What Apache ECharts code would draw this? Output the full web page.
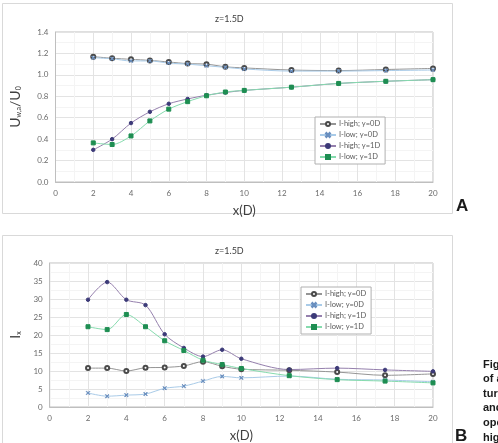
<!DOCTYPE html>
<html>
<head>
<meta charset="utf-8">
<script src="https://cdn.jsdelivr.net/npm/echarts@6/dist/echarts.min.js"></script>
<style>
  html, body { margin: 0; padding: 0; background: #fff; }
  #main { width: 498px; height: 443px; }
</style>
</head>
<body>
<div id="main"></div>
<script>
// x positions (in rotor diameters)
const xPos = [2, 3, 4, 5, 6, 7, 8, 9, 10, 12.5, 15, 17.5, 20];
const seriesNames = ["I-high; y=0D", "I-low; y=0D", "I-high; y=1D", "I-low; y=1D"];

// chart A: U_w,a / U_0
const velHigh0 = [1.17, 1.155, 1.145, 1.135, 1.12, 1.105, 1.10, 1.075, 1.065, 1.045, 1.04, 1.05, 1.06];
const velLow0  = [1.16, 1.15, 1.13, 1.13, 1.11, 1.10, 1.085, 1.07, 1.055, 1.035, 1.035, 1.04, 1.045];
const velHigh1 = [0.30, 0.40, 0.55, 0.655, 0.73, 0.775, 0.81, 0.835, 0.855, 0.885, 0.92, 0.94, 0.955];
const velLow1  = [0.365, 0.35, 0.43, 0.57, 0.68, 0.75, 0.805, 0.84, 0.855, 0.885, 0.92, 0.94, 0.955];

// chart B: I_x
const tiHigh0 = [10.8, 10.8, 10.0, 10.9, 11.0, 11.4, 12.6, 11.3, 10.5, 10.2, 9.7, 8.8, 9.2];
const tiLow0  = [3.9, 3.0, 3.3, 3.6, 5.2, 5.8, 7.2, 8.5, 8.1, 8.6, 7.7, 7.5, 7.0];
const tiHigh1 = [29.8, 34.7, 29.8, 28.3, 20.2, 16.4, 14.0, 15.9, 13.4, 10.4, 10.8, 10.3, 9.9];
const tiLow1  = [22.3, 21.5, 25.7, 22.3, 18.4, 15.7, 13.0, 11.8, 10.7, 8.7, 7.6, 7.2, 6.7];

const velTicks = [0, 1.4, 0.2];
const tiTicks = [0, 40, 5];
const xTicks = [0, 20, 2];

const chart = echarts.init(document.getElementById("main"));
const font = "Lato, 'Open Sans', sans-serif";
const crossPath = "path://M0,1L1,0L5,4L9,0L10,1L6,5L10,9L9,10L5,6L1,10L0,9L4,5Z";

const styles = [
  { line: "#959595", sym: "emptyCircle", symColor: "#4a4a4a", size: 4 },
  { line: "#a9cbe8", sym: crossPath, symColor: "#6a8fbf", size: 3.5 },
  { line: "#9580ad", sym: "circle", symColor: "#3c3a78", size: 3.5 },
  { line: "#86dbae", sym: "rect", symColor: "#1e8e52", size: 4 }
];

function pairs(vals) {
  return xPos.map((x, i) => [x, vals[i]]);
}

function makeSeries(name, vals, st, idx) {
  return {
    name: name,
    type: "line",
    xAxisIndex: idx,
    yAxisIndex: idx,
    data: pairs(vals),
    smooth: 0.3,
    symbol: st.sym,
    symbolSize: st.size,
    lineStyle: { color: st.line, width: 1 },
    itemStyle: { color: st.symColor, borderColor: st.symColor, borderWidth: 1 },
    emphasis: { disabled: true }
  };
}

function xAxis(idx, gridIdx) {
  return {
    type: "value",
    gridIndex: gridIdx,
    min: xTicks[0], max: xTicks[1], interval: xTicks[2],
    name: "x(D)",
    nameLocation: "middle",
    nameGap: 22,
    nameTextStyle: { fontFamily: font, fontSize: 13, color: "#404040" },
    axisLine: { lineStyle: { color: "#bfbfbf" } },
    axisTick: { show: false },
    axisLabel: { fontFamily: font, fontSize: 8, color: "#6b6b6b", margin: 7 },
    splitLine: { lineStyle: { color: "#e3e3e3" } },
    minorTick: { show: false, splitNumber: 2 },
    minorSplitLine: { show: true, lineStyle: { color: "#f4f4f4" } }
  };
}

function yAxis(gridIdx, ticks, name, rich, gap, fmt) {
  return {
    type: "value",
    gridIndex: gridIdx,
    min: ticks[0], max: ticks[1], interval: ticks[2],
    name: name,
    nameLocation: "middle",
    nameRotate: 90,
    nameGap: gap,
    nameTextStyle: { fontFamily: font, color: "#404040", rich: rich },
    axisLine: { show: true, lineStyle: { color: "#bfbfbf" } },
    axisTick: { show: false },
    axisLabel: { fontFamily: font, fontSize: 8, color: "#6b6b6b", margin: 7, formatter: fmt },
    splitLine: { lineStyle: { color: "#e3e3e3" } },
    minorTick: { show: false, splitNumber: 2 },
    minorSplitLine: { show: true, lineStyle: { color: "#f4f4f4" } }
  };
}

const richName = {
  a: { fontSize: 14, fontFamily: font, color: "#404040" },
  s: { fontSize: 7, fontFamily: font, color: "#404040", verticalAlign: "bottom", padding: [8, 0, 0, 0] }
};

function legend(left, top) {
  return {
    data: seriesNames,
    orient: "vertical",
    left: left,
    top: top,
    itemWidth: 16,
    itemHeight: 5,
    itemGap: 3,
    padding: [3, 5, 3, 4],
    borderColor: "#b0b0b0",
    borderWidth: 1,
    backgroundColor: "#fff",
    selectedMode: false,
    textStyle: { fontFamily: font, fontSize: 7.5, color: "#595959", padding: [0, 0, 0, -2] }
  };
}

const series = [];
[[velHigh0, velLow0, velHigh1, velLow1], [tiHigh0, tiLow0, tiHigh1, tiLow1]].forEach((set, idx) => {
  set.forEach((vals, k) => series.push(makeSeries(seriesNames[k], vals, styles[k], idx)));
});

const caption = ["Figu", "of a", "turb", "and", "ope", "high"];

const options = {
  animation: false,
  backgroundColor: "#fff",
  title: [
    { text: "z=1.5D", left: 210, top: 10, textStyle: { fontFamily: font, fontSize: 9, fontWeight: "normal", color: "#404040" } },
    { text: "z=1.5D", left: 210, top: 242, textStyle: { fontFamily: font, fontSize: 9, fontWeight: "normal", color: "#404040" } }
  ],
  grid: [
    { left: 49, top: 32, right: 65, height: 150, show: true, borderColor: "#bfbfbf", borderWidth: 1 },
    { left: 49, top: 263, right: 65, height: 150, show: true, borderColor: "#bfbfbf", borderWidth: 1 }
  ],
  xAxis: [xAxis(0, 0), xAxis(1, 1)],
  yAxis: [
    yAxis(0, velTicks, "{a|U}{s|w,a}{a|/U}{s|0}", richName, 33, v => v.toFixed(1)),
    yAxis(1, tiTicks, "{a|I}{s|x}", richName, 26, v => v)
  ],
  legend: [legend(315, 117), legend(301, 287)],
  series: series,
  graphic: [
    { type: "rect", shape: { x: 2.5, y: 3.5, width: 450, height: 210 }, style: { fill: "none", stroke: "#d9d9d9", lineWidth: 1 }, z: -1 },
    { type: "rect", shape: { x: 2.5, y: 235.5, width: 450, height: 220 }, style: { fill: "none", stroke: "#d9d9d9", lineWidth: 1 }, z: -1 },
    { type: "text", left: 456, top: 198, style: { text: "A", font: "bold 17px 'Liberation Sans Narrow', sans-serif", fill: "#1a1a1a" } },
    { type: "text", left: 455, top: 428, style: { text: "B", font: "bold 17px 'Liberation Sans Narrow', sans-serif", fill: "#1a1a1a" } },
    ...caption.map((t, i) => ({
      type: "text", left: 483, top: 359 + i * 14.6,
      style: { text: t, font: "bold 11px 'Liberation Sans Narrow', sans-serif", fill: "#1a1a1a" }
    }))
  ]
};

chart.setOption(options);
</script>
</body>
</html>
